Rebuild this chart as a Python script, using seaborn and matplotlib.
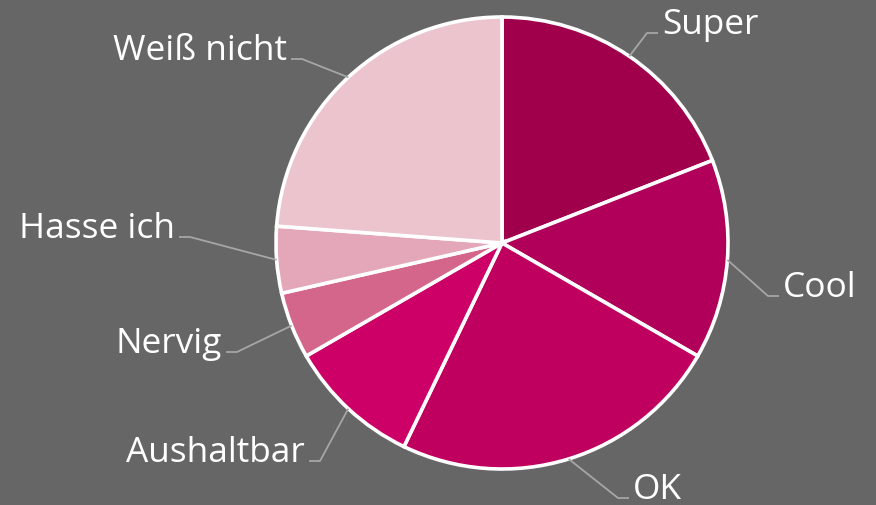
import numpy as np
import matplotlib
matplotlib.use("Agg")
import matplotlib.pyplot as plt
import seaborn as sns

# ---- data ----
categories = ["Super", "Cool", "OK", "Aushaltbar", "Nervig", "Hasse ich", "Weiß nicht"]
values = [4, 3, 5, 2, 1, 1, 5]
colors = ["#A0004B", "#B0005A", "#BF005F", "#CC0066", "#D5668B", "#E3A7B9", "#EBC4CD"]

# ---- layout (pixel coords of figure, y from top) ----
W, H = 876, 506
center_px = (502, 244)
radius_px = 226
# elbow point of leader line and side of label
elbows = [(647, 34), (768, 297), (618, 499), (320, 462), (237, 353), (190, 238), (302, 60)]
sides = ["right", "right", "right", "left", "left", "left", "left"]
hseg = 11
gap = 4

sns.set_theme(style="white")
plt.rcParams["font.family"] = ["Open Sans", "DejaVu Sans"]
bg = "#666666"

fig = plt.figure(figsize=(W / 100, H / 100), dpi=100, facecolor=bg)
ax = fig.add_axes([0, 0, 1, 1])
ax.set_facecolor(bg)

def P(x, y):
    return x, H - y

cx, cy = P(*center_px)
wedges, _ = ax.pie(values, colors=colors, startangle=90, counterclock=False,
                   center=(cx, cy), radius=radius_px, frame=True,
                   wedgeprops=dict(edgecolor="white", linewidth=2.6))
ax.set_xlim(0, W)
ax.set_ylim(0, H)
ax.set_aspect("equal")
ax.axis("off")

line_col = "#A6A6A6"
for w, lab, el, side in zip(wedges, categories, elbows, sides):
    mid = np.deg2rad((w.theta1 + w.theta2) / 2)
    ex, ey = cx + radius_px * np.cos(mid), cy + radius_px * np.sin(mid)
    bx, by = P(*el)
    if side == "right":
        hx = bx + hseg
        tx, ha = hx + gap, "left"
    else:
        hx = bx - hseg
        tx, ha = hx - gap, "right"
    ax.plot([ex, bx, hx], [ey, by, by], color=line_col, lw=1.3, solid_capstyle="butt")
    ax.text(tx, by, lab, ha=ha, va="baseline", color="white", fontsize=25.4)

fig.savefig("out.png", dpi=100, facecolor=bg)
